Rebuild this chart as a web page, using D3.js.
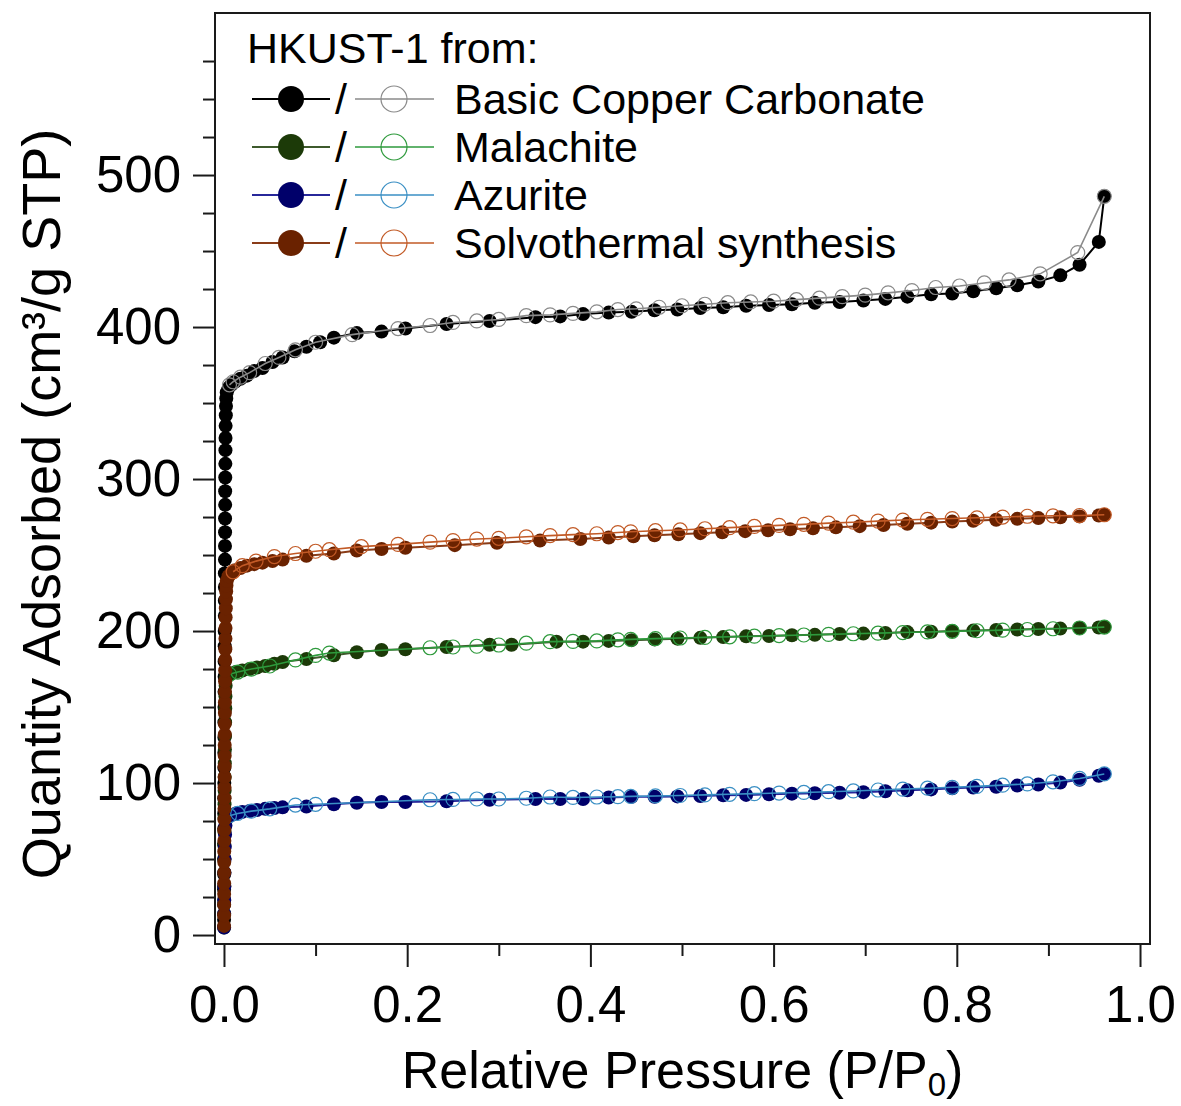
<!DOCTYPE html>
<html>
<head>
<meta charset="utf-8">
<script src="https://cdn.jsdelivr.net/npm/d3@7"></script>
<style>
  body { margin: 0; background: #fff; }
  svg { display: block; }
  text { font-family: "Liberation Sans", Arial, Helvetica, sans-serif; fill: #000; }
</style>
</head>
<body>
<svg id="chart" width="1181" height="1106"></svg>
<script>
// N2 isotherms (77 K) of HKUST-1 made from different copper sources.
// Adsorption = filled markers, desorption = open markers.

// --- Basic copper carbonate ---
const bccAdsP = [0.0001,0.0001,0.0001,0.0002,0.0002,0.0002,0.0003,0.0003,0.0003,0.0004,0.0004,0.0004,0.0005,0.0005,0.0006,0.0006,0.0007,0.0007,0.0008,0.0008,0.0009,0.0009,0.001,0.001,0.0011,0.0011,0.0012,0.0012,0.0013,0.0013,0.0014,0.0015,0.0016,0.0017,0.0018,0.002,0.0022,0.0025,0.003,
  0.005,0.008,0.012,0.018,0.025,0.033,0.042,0.053,0.064,0.077,0.09,0.105,0.12,0.145,0.172,0.198,0.243,0.29,0.34,0.367,0.392,0.42,0.445,0.47,0.495,0.52,0.545,0.57,0.595,0.62,0.645,0.672,0.698,0.722,0.746,0.772,0.795,0.818,0.843,0.866,0.889,0.913,0.934,0.955,0.961];
const bccAdsQ = [10,20,30,40,50,60,70,80,90,100,110,120,130,140,150,160,170,180,190,200,210,220,229,238,247,256,265,274,283,292,301,310,319,327,335,342,348,353,357,
  360,362,364,366,368,371,373,377,380,384,387,390,393,396,397,399,402,404,406.5,407,408.5,409.5,410,411,411.5,412.5,413,414,414.5,415,416,416.5,417.5,418.5,420,421.5,422,423.5,425.5,427.5,430,434,441,456,486];
const bccDesP = [0.961,0.932,0.891,0.857,0.830,0.803,0.777,0.751,0.725,0.700,0.675,0.650,0.625,0.600,0.575,0.550,0.525,0.500,0.475,0.450,0.430,0.407,0.381,0.356,0.330,0.300,0.276,0.250,0.225,0.190,0.140,0.100,0.078,0.060,0.045,0.028,0.018,0.010,0.006];
const bccDesQ = [486,449,435,431,429,427,426,424,422.5,421,420,419,418,417,416.5,416,415,414,413,412,411.5,410,409,408,407.5,405,404,403,401,399,395,390,385,380,376,370,367,364,362];

// --- Malachite ---
const malAdsP = [0.0001,0.0002,0.0002,0.0003,0.0003,0.0004,0.0004,0.0005,0.0005,0.0006,0.0007,0.0008,0.0009,0.001,0.0011,0.0012,0.0014,0.0016,0.0018,0.002,
  0.004,0.008,0.013,0.02,0.028,0.036,0.045,0.055,0.064,0.09,0.12,0.145,0.172,0.198,0.243,0.29,0.314,0.363,0.392,0.42,0.445,0.47,0.495,0.52,0.545,0.57,0.595,0.62,0.645,0.672,0.698,0.722,0.746,0.772,0.795,0.818,0.843,0.866,0.889,0.913,0.934,0.955,0.961];
const malAdsQ = [5,14,23,32,41,50,59,68,77,86,95,104,113,122,131,140,149,157,164,169,
  171,172,173,174,175,176,177,178.5,179.6,181.6,184,186,187.5,188,189.5,191,191,193,193,193.5,194,194.5,195,195.5,196,196.5,196.7,197.2,197.5,198,198.3,198.7,199.3,199.5,200,200.3,200.7,201,201.3,201.6,202,202.3,202.6];
const malDesP = [0.961,0.934,0.905,0.877,0.85,0.822,0.795,0.768,0.741,0.714,0.687,0.66,0.633,0.606,0.579,0.552,0.525,0.498,0.471,0.444,0.43,0.407,0.381,0.356,0.33,0.30,0.276,0.25,0.225,0.115,0.10,0.078,0.05,0.03,0.015,0.006];
const malDesQ = [202.6,202,201.5,201,200.6,200.2,199.8,199.4,199,198.6,198.2,197.8,197.4,197,196.6,196.2,195.8,195.4,195,194.5,194.2,193.5,193.2,193,192,190.8,190,189.5,189,185.5,184,181,177,175,173,171.5];

// --- Azurite ---
const azuAdsP = [0.0001,0.0002,0.0003,0.0004,0.0005,0.0007,0.0009,0.0012,0.0016,0.002,
  0.004,0.008,0.013,0.02,0.028,0.036,0.045,0.055,0.064,0.09,0.12,0.145,0.172,0.198,0.243,0.29,0.34,0.367,0.392,0.42,0.445,0.47,0.495,0.52,0.545,0.57,0.595,0.62,0.645,0.672,0.698,0.722,0.746,0.772,0.795,0.818,0.843,0.866,0.889,0.913,0.934,0.955,0.961];
const azuAdsQ = [5,14,23,32,41,50,58,66,72,76,
  77.6,79,80,81,81.6,82.3,83,83.5,84,84.5,86,87,87.5,87.5,88,89,89.5,89.5,89.5,90.5,91,91,91.2,91.5,92,92.2,92.6,93,93.3,93.6,94,94.6,95.2,95.8,96.5,97,97.6,98.3,99,100.3,102.2,104.8,106];
const azuDesP = [0.961,0.934,0.905,0.877,0.85,0.822,0.795,0.768,0.741,0.714,0.687,0.66,0.633,0.606,0.579,0.552,0.525,0.498,0.471,0.444,0.43,0.407,0.381,0.356,0.33,0.30,0.276,0.25,0.225,0.10,0.078,0.05,0.03,0.015,0.006];
const azuDesQ = [106,103,100.8,99.4,98.6,97.8,97.2,96.6,96,95.4,94.8,94.3,93.8,93.4,93,92.6,92.2,91.8,91.5,91.2,91,90.8,90.5,90.8,90,89.5,89.5,89.2,89,86,85.5,83,81.5,80,78.5];

// --- Solvothermal synthesis ---
const solAdsP = [0.0001,0.0001,0.0002,0.0002,0.0002,0.0003,0.0003,0.0003,0.0004,0.0004,0.0005,0.0005,0.0006,0.0006,0.0007,0.0007,0.0008,0.0008,0.0009,0.0009,0.001,0.001,0.0011,0.0012,0.0013,0.0014,0.0015,0.0016,0.0017,0.0018,0.002,0.0022,0.0024,0.0027,0.003,
  0.005,0.008,0.012,0.018,0.025,0.033,0.042,0.053,0.064,0.09,0.12,0.145,0.172,0.198,0.252,0.298,0.345,0.389,0.42,0.447,0.47,0.496,0.52,0.544,0.569,0.594,0.618,0.643,0.668,0.694,0.72,0.746,0.772,0.795,0.818,0.843,0.866,0.889,0.913,0.934,0.955,0.961];
const solAdsQ = [6,13,20,27,34,41,48,55,62,69,76,83,90,97,104,111,118,125,132,139,146,153,160,167,174,181,188,195,202,209,215,221,226,230,233,
  236,238,240,241.5,243,244,245,246,247,249.5,251,253,254,254.8,256.5,258,259.5,260.5,261.5,262.3,263,263.7,264.4,265,265.7,266.3,267,267.6,268.2,269,269.8,270.6,271.3,272,272.6,273.2,273.8,274.3,274.9,275.4,276,276.5];
const solDesP = [0.961,0.934,0.905,0.877,0.85,0.822,0.795,0.768,0.741,0.714,0.687,0.66,0.633,0.606,0.579,0.552,0.525,0.498,0.471,0.444,0.43,0.407,0.381,0.356,0.33,0.30,0.276,0.25,0.225,0.19,0.15,0.115,0.10,0.078,0.055,0.035,0.02,0.01];
const solDesQ = [276.5,276,275.8,275.5,275,274.5,274,273.5,273,272.3,271.6,271,270.2,269.5,268.8,268,267.3,266.5,266,265.3,264.8,264,263.4,262.8,262,261,260.5,259.5,258.5,257,255.5,253.5,252.5,251,249,246,243,239];

const seriesNames = ["Basic Copper Carbonate", "Malachite", "Azurite", "Solvothermal synthesis"];
const xTickMajor = [0, 0.2, 0.4, 0.6, 0.8, 1.0];
const xTickMinor = [0.1, 0.3, 0.5, 0.7, 0.9];
const yTickMajor = [0, 100, 200, 300, 400, 500];
const yTickMinor = [25,50,75,125,150,175,225,250,275,325,350,375,425,450,475,525,550,575];

// styling per sample: adsorption marker fill, adsorption line, desorption marker/line
const styles = [
  { fill: "#000000", adsLine: "#000000", des: "#8a8a8a" },
  { fill: "#1c3a08", adsLine: "#3e5a2c", des: "#2e9a3c" },
  { fill: "#00006a", adsLine: "#27279a", des: "#3a8fc4" },
  { fill: "#6a2200", adsLine: "#8a3c18", des: "#c25a26" }
];

const zip = (P, Q) => P.map((p, i) => ({ p, q: Q[i] }));
const samples = [
  { name: seriesNames[0], ads: zip(bccAdsP, bccAdsQ), des: zip(bccDesP, bccDesQ) },
  { name: seriesNames[1], ads: zip(malAdsP, malAdsQ), des: zip(malDesP, malDesQ) },
  { name: seriesNames[2], ads: zip(azuAdsP, azuAdsQ), des: zip(azuDesP, azuDesQ) },
  { name: seriesNames[3], ads: zip(solAdsP, solAdsQ), des: zip(solDesP, solDesQ) }
];

const svg = d3.select("#chart");
const plot = { left: 215, right: 1150, top: 13, bottom: 944 };
const x = d3.scaleLinear().domain([-0.0098, 1.0109]).range([plot.left, plot.right]);
const y = d3.scaleLinear().domain([-5.9, 606.6]).range([plot.bottom, plot.top]);

const tickFont = 51;
const axisColor = "#1a1a1a";

// x axis: major ticks with labels, minor ticks without
const gxMaj = svg.append("g").attr("transform", `translate(0,${plot.bottom})`)
  .call(d3.axisBottom(x).tickValues(xTickMajor).tickSize(23).tickPadding(19).tickFormat(d3.format(".1f")));
const gxMin = svg.append("g").attr("transform", `translate(0,${plot.bottom})`)
  .call(d3.axisBottom(x).tickValues(xTickMinor).tickSize(12).tickFormat(""));
const gyMaj = svg.append("g").attr("transform", `translate(${plot.left},0)`)
  .call(d3.axisLeft(y).tickValues(yTickMajor).tickSize(22).tickPadding(12).tickFormat(d3.format("d")));
const gyMin = svg.append("g").attr("transform", `translate(${plot.left},0)`)
  .call(d3.axisLeft(y).tickValues(yTickMinor).tickSize(12).tickFormat(""));
[gxMaj, gxMin, gyMaj, gyMin].forEach(g => {
  g.select(".domain").remove();
  g.selectAll(".tick line").attr("stroke", axisColor).attr("stroke-width", 2);
  g.selectAll(".tick text").attr("font-size", tickFont).attr("fill", "#000")
    .style("font-family", '"Liberation Sans", Arial, sans-serif');
});

// frame
svg.append("rect")
  .attr("x", plot.left).attr("y", plot.top)
  .attr("width", plot.right - plot.left).attr("height", plot.bottom - plot.top)
  .attr("fill", "none").attr("stroke", axisColor).attr("stroke-width", 2);

// isotherms
const line = d3.line().x(d => x(d.p)).y(d => y(d.q));
const markR = 7;
const gData = svg.append("g");
samples.forEach((s, i) => {
  const st = styles[i];
  const g = gData.append("g");
  g.append("path").datum(s.ads).attr("d", line)
    .attr("fill", "none").attr("stroke", st.adsLine).attr("stroke-width", 2);
  g.selectAll("circle.ads").data(s.ads).join("circle").attr("class", "ads")
    .attr("cx", d => x(d.p)).attr("cy", d => y(d.q)).attr("r", markR)
    .attr("fill", st.fill);
  g.append("path").datum(s.des).attr("d", line)
    .attr("fill", "none").attr("stroke", st.des).attr("stroke-width", 1.6);
  g.selectAll("circle.des").data(s.des).join("circle").attr("class", "des")
    .attr("cx", d => x(d.p)).attr("cy", d => y(d.q)).attr("r", markR)
    .attr("fill", "none").attr("stroke", st.des).attr("stroke-width", 1.2);
});

// legend
const legFont = 43;
const leg = svg.append("g");
leg.append("text").attr("x", 247).attr("y", 63).attr("font-size", legFont).text("HKUST-1 from:");
const rowY = [99, 147, 195, 243];
samples.forEach((s, i) => {
  const st = styles[i];
  const yy = rowY[i];
  const r = leg.append("g").attr("transform", `translate(0,${yy})`);
  r.append("line").attr("x1", 252).attr("x2", 330).attr("stroke", st.adsLine).attr("stroke-width", 2);
  r.append("circle").attr("cx", 291).attr("r", 13).attr("fill", st.fill);
  r.append("text").attr("x", 341).attr("y", 15).attr("text-anchor", "middle").attr("font-size", legFont).text("/");
  r.append("line").attr("x1", 355).attr("x2", 434).attr("stroke", st.des).attr("stroke-width", 1.6);
  r.append("circle").attr("cx", 394).attr("r", 13).attr("fill", "none").attr("stroke", st.des).attr("stroke-width", 1.2);
  r.append("text").attr("x", 454).attr("y", 15).attr("font-size", legFont).text(s.name);
});

// axis titles
const xt = svg.append("text").attr("x", (plot.left + plot.right) / 2).attr("y", 1088)
  .attr("text-anchor", "middle").attr("font-size", 52);
xt.append("tspan").text("Relative Pressure (P/P");
xt.append("tspan").attr("font-size", 33).attr("dy", 8).text("0");
xt.append("tspan").attr("dy", -8).text(")");

svg.append("text")
  .attr("transform", `translate(60,504) rotate(-90)`)
  .attr("text-anchor", "middle").attr("font-size", 54)
  .text("Quantity Adsorbed (cm³/g STP)");
</script>
</body>
</html>
